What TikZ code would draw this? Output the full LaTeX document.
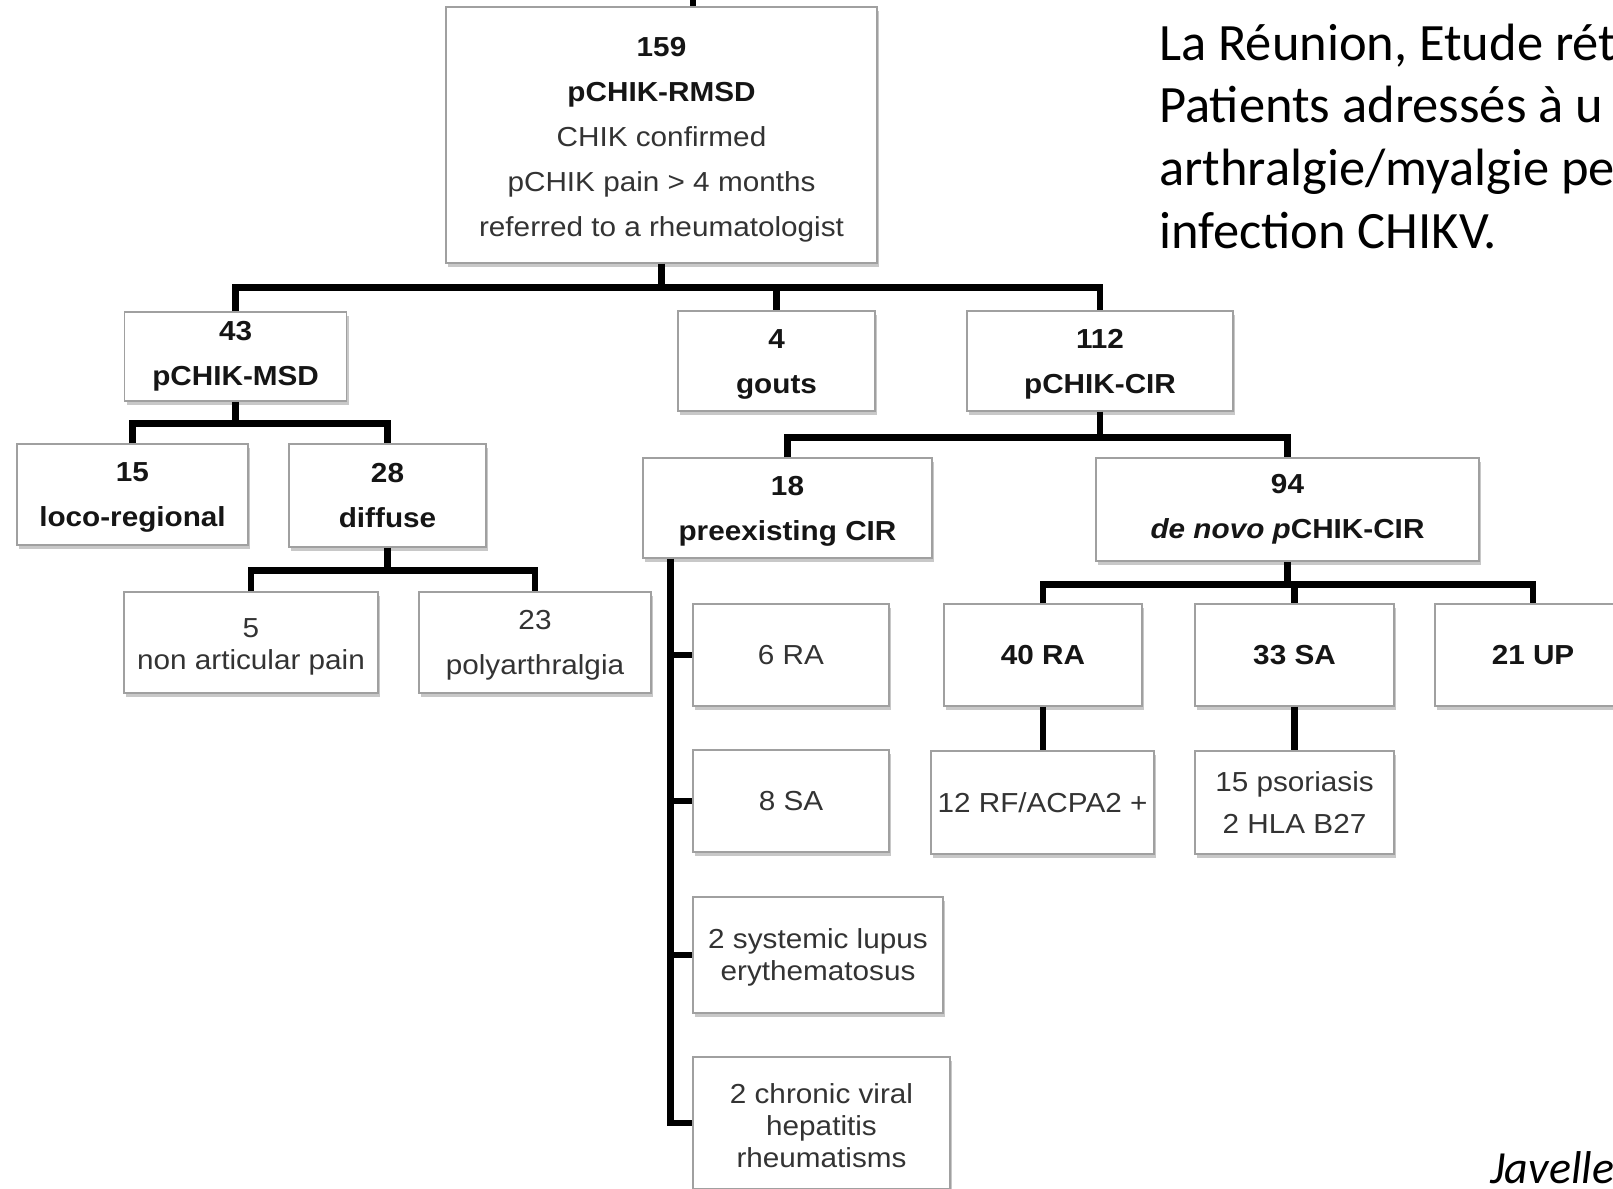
\documentclass[tikz,border=0pt]{standalone}
\usepackage{fontspec}
\setmainfont{Liberation Sans}[FakeStretch=1.08]
\newfontfamily\calibri{Carlito}
\usetikzlibrary{shadows,calc}
\definecolor{edge}{HTML}{A0A0A0}
\definecolor{ink}{HTML}{333333}
\definecolor{inkdark}{HTML}{151515}
\newcommand{\strongtxt}[1]{{\bfseries\color{inkdark}#1}}
% invisible strut that raises the first line so the text block sits a little lower
\newcommand{\padtop}[1][25pt]{\rule{0pt}{#1}}
\begin{document}
\begin{tikzpicture}[x=1pt,y=-1pt,
  box/.style={draw=edge, line width=1.3pt, fill=white, inner sep=0pt, align=center, text=ink,
    font=\fontsize{27.5}{45}\selectfont,
    drop shadow={shadow xshift=2pt, shadow yshift=-4pt, opacity=0.3, fill=black!70}},
  strong/.style={text=inkdark, font=\fontsize{27.5}{45}\selectfont\bfseries},
  tight/.style={font=\fontsize{27.5}{32}\selectfont},
  link/.style={draw=black, line width=6.5pt},
  note/.style={anchor=base west, inner sep=0pt, font=\calibri\fontsize{52.5}{62}\selectfont}]

% canvas
\useasboundingbox (0,0) rectangle (1613,1188);
\clip (0,0) rectangle (1613,1188);
\fill[white] (0,0) rectangle (1613,1188);

% root
\node[box, minimum width=431pt, minimum height=256pt] (root) at (661.5,135)
  {\padtop[28pt]\strongtxt{159}\\\strongtxt{pCHIK-RMSD}\\CHIK confirmed\\pCHIK pain > 4 months\\referred to a rheumatologist};

% first level
\node[box, strong, minimum width=222pt, minimum height=89pt] (msd) at (235.6,356.5) {43\\pCHIK-MSD};
\node[box, strong, minimum width=197pt, minimum height=100pt] (gouts) at (776.5,361) {\padtop 4\\gouts};
\node[box, strong, minimum width=266pt, minimum height=100pt] (cir) at (1100,361) {\padtop 112\\pCHIK-CIR};

% musculoskeletal branch
\node[box, strong, minimum width=231pt, minimum height=101pt] (loco) at (132.5,494.5) {\padtop 15\\loco-regional};
\node[box, strong, minimum width=197pt, minimum height=103pt] (diffuse) at (387.5,495.5) {28\\diffuse};
\node[box, tight, minimum width=254pt, minimum height=101pt] (nonart) at (251,642.5) {\padtop[27pt]5\\non articular pain};
\node[box, minimum width=232pt, minimum height=101pt] (poly) at (535,642.5) {\padtop 23\\polyarthralgia};

% inflammatory branch
\node[box, strong, minimum width=289pt, minimum height=100pt] (pre) at (787.5,508) {\padtop 18\\preexisting CIR};
\node[box, strong, minimum width=383pt, minimum height=103pt] (denovo) at (1287.5,509.5) {94\\{\itshape de novo p}CHIK-CIR};

\node[box, minimum width=196pt, minimum height=102pt] (ra6) at (791,655) {6 RA};
\node[box, minimum width=196pt, minimum height=102pt] (sa8) at (791,801) {8 SA};
\node[box, tight, minimum width=250pt, minimum height=116pt] (lupus) at (818,955) {\padtop 2 systemic lupus\\erythematosus};
\node[box, tight, minimum width=257pt, minimum height=132pt] (hep) at (821.5,1123) {\padtop 2 chronic viral\\hepatitis\\rheumatisms};

\node[box, strong, minimum width=198pt, minimum height=102pt] (ra40) at (1043,655) {40 RA};
\node[box, strong, minimum width=199pt, minimum height=102pt] (sa33) at (1294.5,655) {33 SA};
\node[box, strong, minimum width=196pt, minimum height=102pt] (up21) at (1533,655) {21 UP};
\node[box, minimum width=223pt, minimum height=103pt] (rf12) at (1042.5,802.5) {12 RF/ACPA2 +};
\node[box, font=\fontsize{27.5}{42}\selectfont, minimum width=199pt, minimum height=103pt] (pso15) at (1294.5,802.5) {15 psoriasis\\2 HLA B27};

% connectors
\coordinate (feed) at (693,-5);
\draw[link] (feed) -- (feed |- root.north);

\draw[link] (root.south) -- ++(0,24) coordinate (j0);
\draw[link] (msd.north) |- (j0) -| (cir.north);
\draw[link] (j0 -| gouts.north) -- (gouts.north);

\draw[link] (msd.south) -- ++(0,22) coordinate (j1);
\draw[link] (loco.north) |- (j1) -| (diffuse.north);

\draw[link] (diffuse.south) -- ++(0,23) coordinate (j2);
\draw[link] (nonart.north) |- (j2) -| (poly.north);

\draw[link] (cir.south) -- ++(0,26) coordinate (j3);
\draw[link] (pre.north) |- (j3) -| (denovo.north);

\draw[link] (denovo.south) -- ++(0,23) coordinate (j4);
\draw[link] (ra40.north) |- (j4) -| (up21.north);
\draw[link] (j4 -| sa33.north) -- (sa33.north);

\draw[link] (ra40.south) -- (ra40.south |- rf12.north);
\draw[link] (sa33.south) -- (sa33.south |- pso15.north);

\coordinate (trunk) at ($(pre.south west)+(28,0)$);
\draw[link] (trunk) |- (hep.west);
\foreach \n in {ra6,sa8,lupus} \draw[link] (trunk |- \n.west) -- (\n.west);

% side notes
\node[note] (l1) at (1159,61) {La Réunion, Etude rét};
\node[note] (l2) at (1159,123) {Patients adressés à u};
\node[note] (l3) at (1159,185) {arthralgie/myalgie pe};
\node[note] (l4) at (1159,248) {infection CHIKV.};
\node[note, font=\calibri\itshape\fontsize{46}{52}\selectfont] (cite) at (1490,1183) {Javelle};
\end{tikzpicture}
\end{document}
